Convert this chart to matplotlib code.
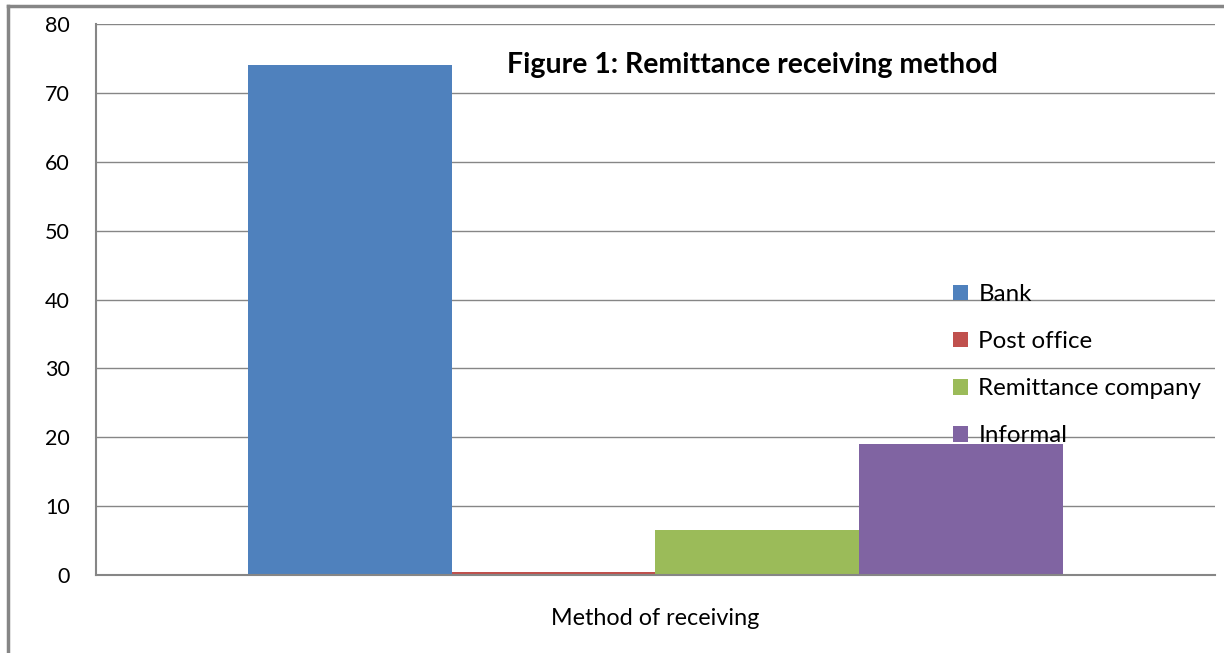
import matplotlib.pyplot as plt
from matplotlib.lines import Line2D

# 数据
categories = ["Bank", "Post office", "Remittance company", "Informal"]
values = [74, 0.4, 6.6, 19]
colors = ["#4f81bd", "#c0504d", "#9bbb59", "#8064a2"]
yticks = [0, 10, 20, 30, 40, 50, 60, 70, 80]

plt.rcParams['font.family'] = ['Lato', 'DejaVu Sans']

fig = plt.figure(figsize=(12.24, 6.53), dpi=100)
ax = fig.add_axes([0.0784, 0.1194, 0.9142, 0.8436])

bar_w = 0.182
for i, (name, v, c) in enumerate(zip(categories, values, colors)):
    ax.bar((i - 1.5) * bar_w, v, width=bar_w, color=c, label=name, zorder=2)

ax.set_xlim(-0.5, 0.5)
ax.set_ylim(0, 80)
ax.set_yticks(yticks)
ax.set_xticks([])
ax.tick_params(axis='y', length=0, pad=19, labelsize=15.5)
ax.grid(axis='y', color='#868686', linewidth=1, zorder=0)
for s in ['top', 'right']:
    ax.spines[s].set_visible(False)
for s in ['left', 'bottom']:
    ax.spines[s].set_color('#868686')
    ax.spines[s].set_linewidth(1.5)

ax.set_xlabel("Method of receiving", fontsize=16.8, labelpad=23.5)
ax.text(0.087, 74.1, "Figure 1: Remittance receiving method", fontsize=20.5,
        fontweight='bold', ha='center', va='center', zorder=3)

ax.legend(loc='upper left', bbox_to_anchor=(0.766, 0.528), frameon=False,
          fontsize=17.4, handlelength=0.6, handleheight=0.6, handletextpad=0.45,
          labelspacing=1.08, borderaxespad=0, borderpad=0)

# 外框
fig.add_artist(Line2D([0.0065, 0.0065], [0, 0.991], color='#868686', linewidth=2.5,
                      transform=fig.transFigure))
fig.add_artist(Line2D([0.0065, 1], [0.991, 0.991], color='#868686', linewidth=2.5,
                      transform=fig.transFigure))

fig.savefig("out.png", dpi=100)
